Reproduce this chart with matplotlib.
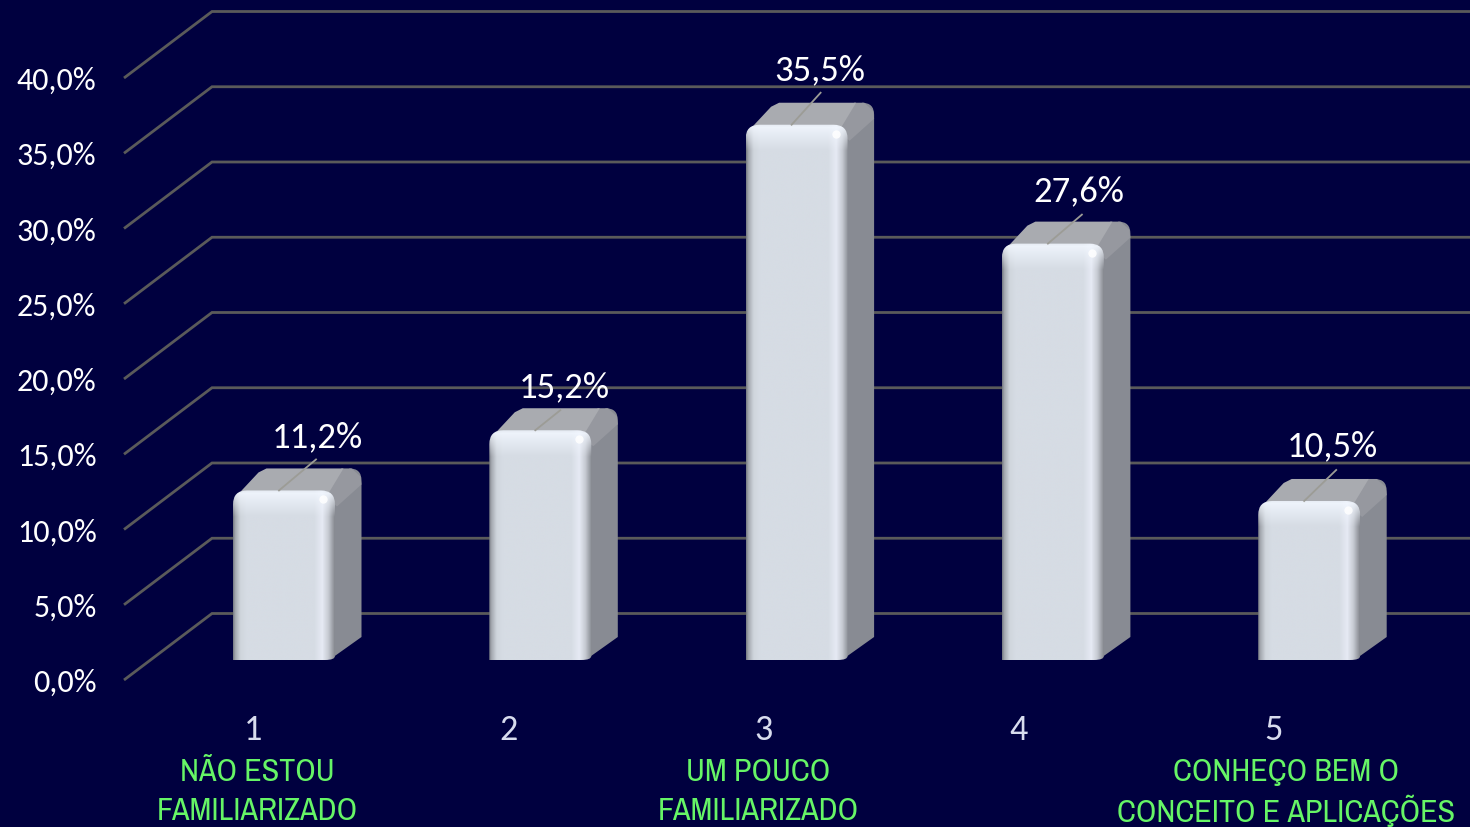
import numpy as np
import matplotlib
matplotlib.use("Agg")
import matplotlib.pyplot as plt
from matplotlib.path import Path
from matplotlib.patches import PathPatch, Polygon
from matplotlib.colors import to_rgb

# ---- data ----
categories = ["1", "2", "3", "4", "5"]
values = [11.2, 15.2, 35.5, 27.6, 10.5]
value_labels = ["11,2%", "15,2%", "35,5%", "27,6%", "10,5%"]
y_ticks = [0, 5, 10, 15, 20, 25, 30, 35, 40]
y_tick_labels = ["0,0%", "5,0%", "10,0%", "15,0%", "20,0%", "25,0%", "30,0%", "35,0%", "40,0%"]
cat_notes = {1: ["NÃO ESTOU", "FAMILIARIZADO"], 3: ["UM POUCO", "FAMILIARIZADO"],
             5: ["CONHEÇO BEM O", "CONCEITO E APLICAÇÕES"]}
note_shift = {1: -27, 3: -38, 5: -23}

# ---- layout offsets (pixels) ----
label_dx = [33, 24, 23, 26, 23]
label_dy = [53, 43, 54, 52, 55]
leader_end = [(37, 31), (25, 20), (29, 32), (34, 29), (32, 31)]

# ---- style ----
BG = "#00003F"
GRID = "#5A5A5A"
W, H = 1470, 827
PX_PER_CAT = 256.3
PX_PER_PCT = 15.05
X1_PX = 284.0
Y0_PX = 680.0

fig = plt.figure(figsize=(W / 100, H / 100), dpi=100, facecolor=BG)
ax = fig.add_axes([0, 0, 1, 1], facecolor=BG)
x_left = 1 - X1_PX / PX_PER_CAT
ax.set_xlim(x_left, x_left + W / PX_PER_CAT)
ax.set_ylim(-(H - Y0_PX) / PX_PER_PCT, Y0_PX / PX_PER_PCT)
ax.axis("off")
ax.set_aspect("auto")

def dx(p):
    return p / PX_PER_CAT

def dy(p):
    return p / PX_PER_PCT

FONT = ["Carlito", "Lato", "DejaVu Sans"]
NARROW = ["Archivo Narrow", "Lato", "DejaVu Sans"]

# ---- 3D grid ----
x_front = x_left + dx(124)
x_back = x_left + dx(212)
x_end = x_left + dx(W)
depth_y = dy(66.5)
for t, lab in zip(y_ticks, y_tick_labels):
    ax.plot([x_front, x_back, x_end], [t, t + depth_y, t + depth_y], color=GRID, lw=2,
            solid_joinstyle="miter", solid_capstyle="butt", zorder=1)
    ax.text(x_left + dx(96.5), t - dy(3), lab, color="white", fontsize=23, family=FONT,
            ha="right", va="center", zorder=6)

# ---- bars ----
base_y = dy(20)
half_w = dx(51)
dep_x, dep_y = dx(26.5), dy(22)
rx, ry = dx(14), dy(14)

def rounded_front(x0, x1, y0, y1):
    bx, by = dx(10), dy(4)
    v = [(x0, y0), (x1 - bx, y0), (x1, y0), (x1, y0 + by), (x1, y1 - ry), (x1, y1), (x1 - rx, y1),
         (x0 + rx, y1), (x0, y1), (x0, y1 - ry), (x0, y0), (x0, y0)]
    c = [Path.MOVETO, Path.LINETO, Path.CURVE3, Path.CURVE3, Path.LINETO, Path.CURVE3, Path.CURVE3,
         Path.LINETO, Path.CURVE3, Path.CURVE3, Path.LINETO, Path.CLOSEPOLY]
    return Path(v, c)

def front_image(h):
    xs = np.array([0, 0.02, 0.07, 0.13, 0.80, 0.88, 0.94, 1.0])
    cs = [to_rgb(c) for c in ["#7C8088", "#A4A8AF", "#CFD5DC", "#D6DCE4", "#D6DCE4", "#E6EAF4", "#C6CAD2", "#888B92"]]
    gx = np.linspace(0, 1, 110)
    row = np.stack([np.interp(gx, xs, [c[i] for c in cs]) for i in range(3)], axis=1)
    n = int(max(h, 30))
    img = np.repeat(row[None, :, :], n, axis=0)
    for j in range(min(26, n)):
        a = (1 - j / 26.0) ** 1.1 * 0.95 if j > 3 else 0.55 + j * 0.1
        img[j] = img[j] * (1 - a) + np.array([0.95, 0.97, 1.0]) * a
    return img

for i, (v, lab) in enumerate(zip(values, value_labels)):
    c = i + 1
    x0, x1 = c - half_w, c + half_w
    y0, y1 = base_y, v + base_y + dy(1)
    xb, yb = x1 + dep_x, y1 + dep_y

    # side + top silhouette in side colour
    sv = [(x1 - dx(12), y0), (x1 - dx(3), y0 + dy(2)), (xb, y0 + dep_y + dy(1)),
          (xb, yb - dy(12)), (xb, yb), (xb - dx(12), yb), (x1 - dx(8), y1), (x1 - dx(12), y0)]
    sc = [Path.MOVETO, Path.LINETO, Path.LINETO, Path.LINETO, Path.CURVE3, Path.CURVE3, Path.LINETO, Path.CLOSEPOLY]
    ax.add_patch(PathPatch(Path(sv, sc), fc="#888B93", ec="none", zorder=2))

    # bevel between top and side
    ax.add_patch(Polygon([(x1 - dx(18), y1), (xb - dx(20), yb), (xb - dx(10), yb), (xb - dx(1), yb - dy(8)),
                          (xb, yb - dy(16)), (x1 + dx(2), y1 - dy(16))],
                         closed=True, fc="#96989F", ec="none", zorder=2.5))

    # top face
    tv = [(x0 + dx(4), y1 - dy(5)), (x0 + dep_x - dx(1), yb - dy(4)), (x0 + dep_x + dx(7), yb),
          (xb - dx(18), yb), (x1 - dx(6), y1 - dy(2))]
    ax.add_patch(Polygon(tv, closed=True, fc="#A9ABB0", ec="none", zorder=3))

    # front face
    im = ax.imshow(front_image(v * PX_PER_PCT), extent=(x0, x1, y0, y1), origin="upper",
                   aspect="auto", interpolation="bilinear", zorder=4)
    clip = PathPatch(rounded_front(x0, x1, y0, y1), transform=ax.transData, fc="none", ec="none")
    ax.add_patch(clip)
    im.set_clip_path(clip)

    # corner glint
    ax.plot([x1 - dx(12)], [y1 - dy(9)], marker="o", ms=6, color="white", alpha=0.85, mew=0, zorder=5)

    # leader and value label
    ex, ey = leader_end[i]
    ax.plot([c - dx(5), c - dx(5) + dx(ex)], [y1, y1 + dy(ey)], color="#9C9C96", lw=1.3, zorder=5)
    ax.text(c + dx(label_dx[i]), y1 + dy(label_dy[i]), lab, color="white", fontsize=26.5, family=FONT,
            ha="center", va="center", zorder=6)

    # category number
    ax.text(x_left + dx(253.5 + i * 255), -dy(50), categories[i], color="#D8DCEE", fontsize=26,
            family=FONT, ha="center", va="center", zorder=6)

for c, lines in cat_notes.items():
    for j, txt in enumerate(lines):
        ax.text(c + dx(note_shift[c]), -dy(92 + j * 38.5), txt, color="#66F566", fontsize=23, family=NARROW,
                ha="center", va="center", zorder=6)

fig.savefig("out.png", dpi=100, facecolor=BG)
